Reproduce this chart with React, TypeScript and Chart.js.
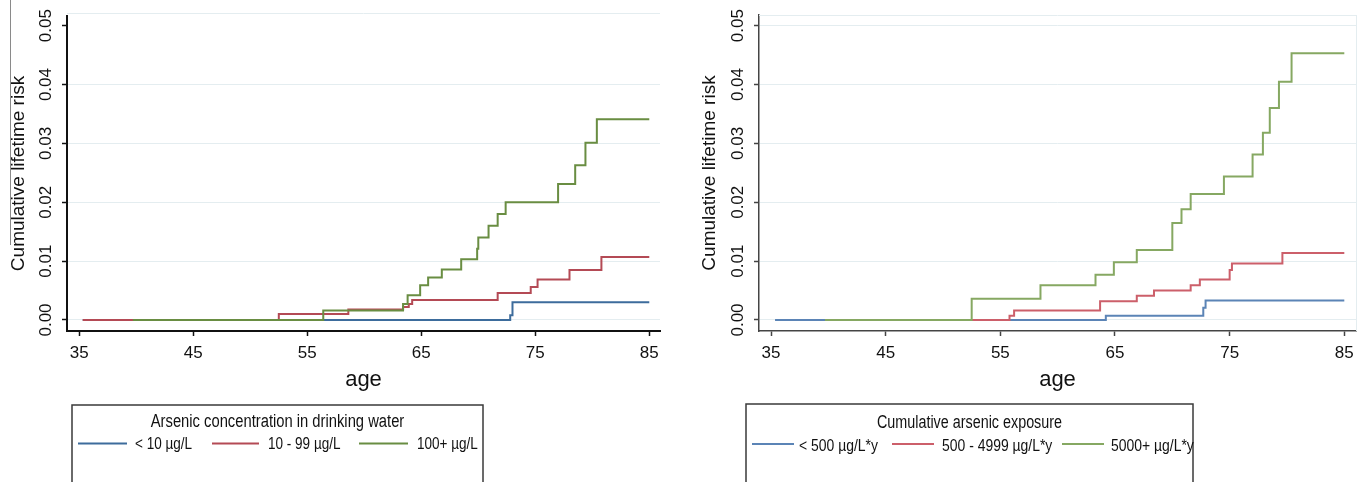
import React, { useEffect, useRef } from 'react';
import { Chart, registerables } from 'chart.js';

Chart.register(...registerables);

// ---------------- data ----------------
const xTicks = [35, 45, 55, 65, 75, 85];
const yTicks = [0, 0.01, 0.02, 0.03, 0.04, 0.05];
const xTitle = 'age';
const yTitle = 'Cumulative lifetime risk';

const leftLegendTitle = 'Arsenic concentration in drinking water';
const leftLabels = ['< 10 µg/L', '10 - 99 µg/L', '100+ µg/L'];
const leftLowAges = [35.3, 72.8, 73.0, 85];
const leftLowRisk = [0, 0.0008, 0.003, 0.003];
const leftMidAges = [35.3, 52.5, 58.6, 63.4, 63.9, 64.2, 71.7, 74.6, 75.2, 78.0, 80.8, 85];
const leftMidRisk = [0, 0.001, 0.0018, 0.0022, 0.0027, 0.0034, 0.0046, 0.0056, 0.0069, 0.0085, 0.0107, 0.0107];
const leftHighAges = [39.7, 56.4, 63.4, 63.8, 64.9, 65.6, 66.8, 68.5, 69.9, 70.0, 70.9, 71.7, 72.4, 77.0, 78.5, 79.4, 80.4, 85];
const leftHighRisk = [0, 0.0016, 0.0027, 0.0042, 0.0059, 0.0072, 0.0086, 0.0103, 0.0121, 0.014, 0.016, 0.018, 0.02, 0.0231, 0.0263, 0.0301, 0.0341, 0.0341];

const rightLegendTitle = 'Cumulative arsenic exposure';
const rightLabels = ['< 500 µg/L*y', '500 - 4999 µg/L*y', '5000+ µg/L*y'];
const rightLowAges = [35.35, 64.2, 72.7, 72.9, 85];
const rightLowRisk = [0, 0.0007, 0.0021, 0.0033, 0.0033];
const rightMidAges = [40.0, 55.8, 56.2, 63.7, 66.9, 68.4, 71.6, 72.4, 75.0, 75.2, 79.6, 85];
const rightMidRisk = [0, 0.0007, 0.0016, 0.0032, 0.0041, 0.005, 0.0059, 0.0069, 0.0085, 0.0096, 0.0114, 0.0114];
const rightHighAges = [39.7, 52.5, 58.5, 63.3, 64.9, 66.9, 70.0, 70.8, 71.6, 74.5, 77.0, 77.9, 78.5, 79.3, 80.4, 85];
const rightHighRisk = [0, 0.0036, 0.0059, 0.0077, 0.0098, 0.0119, 0.0165, 0.0188, 0.0214, 0.0244, 0.0281, 0.0318, 0.036, 0.0405, 0.0453, 0.0453];

// ---------------- styles ----------------
const FAMILY = "'Liberation Sans', Arial, Helvetica, sans-serif";
const leftColors = ['#3d6c9c', '#b44a55', '#698d42'];
const rightColors = ['#5b84b6', '#cc5f6a', '#86a862'];

function narrowAvailable(): boolean {
  try {
    const c = document.createElement('canvas').getContext('2d')!;
    c.font = "20px 'Liberation Sans Narrow', monospace";
    const a = c.measureText('Arsenic concentration age').width;
    c.font = '20px monospace';
    const b = c.measureText('Arsenic concentration age').width;
    return Math.abs(a - b) > 0.5;
  } catch (e) {
    return false;
  }
}
const HAS_NARROW = narrowAvailable();

const toPoints = (ages: number[], risk: number[]) => ages.map((a, i) => ({ x: a, y: risk[i] }));

const frameLines = {
  id: 'frameLines',
  beforeDatasetsDraw(chart: any, _a: any, opts: any) {
    const { ctx, chartArea } = chart;
    ctx.save();
    ctx.strokeStyle = '#e4edf0';
    ctx.lineWidth = 1;
    ctx.beginPath();
    const ty = Math.round(chartArea.top + (opts.topOffset || 0)) + 0.5;
    ctx.moveTo(chartArea.left, ty);
    ctx.lineTo(chartArea.right, ty);
    if (opts.rightLine) {
      ctx.moveTo(Math.round(chartArea.right) + 0.5, chartArea.top);
      ctx.lineTo(Math.round(chartArea.right) + 0.5, chartArea.bottom);
    }
    ctx.stroke();
    ctx.restore();
  },
  afterDraw(chart: any, _a: any, opts: any) {
    if (!opts.stray) return;
    const ctx = chart.ctx;
    ctx.save();
    ctx.strokeStyle = '#8a8a8a';
    ctx.lineWidth = 1;
    ctx.beginPath();
    ctx.moveTo(opts.stray.x + 0.5, opts.stray.y0);
    ctx.lineTo(opts.stray.x + 0.5, opts.stray.y1);
    ctx.stroke();
    ctx.restore();
  },
};

const boxLegend = {
  id: 'boxLegend',
  afterDraw(chart: any, _a: any, opts: any) {
    if (!opts || !opts.title) return;
    const ctx = chart.ctx;
    const ds = chart.data.datasets;
    ctx.save();
    ctx.strokeStyle = '#3a3a3a';
    ctx.lineWidth = 1.5;
    ctx.strokeRect(opts.left, opts.top, opts.right - opts.left, opts.bottom - opts.top);
    ctx.fillStyle = '#111';
    ctx.textBaseline = 'alphabetic';
    const sx = HAS_NARROW ? 1 : 0.82;
    const fam = HAS_NARROW ? "'Liberation Sans Narrow'" : FAMILY;
    const text = (t: string, x: number, y: number, align: CanvasTextAlign, size: number) => {
      ctx.save();
      ctx.font = `${size}px ${fam}`;
      ctx.translate(x, y);
      ctx.scale(sx, 1);
      ctx.textAlign = align;
      ctx.fillText(t, 0, 0);
      ctx.restore();
    };
    text(opts.title, (opts.left + opts.right) / 2, opts.titleY, 'center', opts.titleSize);
    ds.forEach((d: any, i: number) => {
      const it = opts.items[i];
      ctx.strokeStyle = d.borderColor;
      ctx.lineWidth = 2;
      ctx.beginPath();
      ctx.moveTo(it.x0, opts.lineY);
      ctx.lineTo(it.x1, opts.lineY);
      ctx.stroke();
      text(d.label, it.tx, opts.textY, 'left', opts.itemSize);
    });
    ctx.restore();
  },
};

function makeConfig(p: any) {
  const axisColor = p.axisColor;
  const datasets = [
    { label: p.labels[0], data: toPoints(p.low[0], p.low[1]), borderColor: p.colors[0], order: 3 },
    { label: p.labels[1], data: toPoints(p.mid[0], p.mid[1]), borderColor: p.colors[1], order: 2 },
    { label: p.labels[2], data: toPoints(p.high[0], p.high[1]), borderColor: p.colors[2], order: 1 },
  ].map((d) => ({
    ...d,
    stepped: 'before' as const,
    borderWidth: 2,
    pointRadius: 0,
    fill: false,
    tension: 0,
  }));
  return {
    type: 'line' as const,
    data: { datasets },
    options: {
      animation: false as const,
      responsive: false,
      devicePixelRatio: 1,
      layout: { padding: { left: 0, top: p.top, right: p.padRight, bottom: 89 } },
      plugins: {
        legend: { display: false },
        tooltip: { enabled: false },
        frameLines: { topOffset: p.topOffset, rightLine: p.rightLine, stray: p.stray },
        boxLegend: p.legend,
      },
      scales: {
        x: {
          type: 'linear' as const,
          min: p.xMin,
          max: p.xMax,
          afterBuildTicks: (s: any) => {
            s.ticks = xTicks.map((v) => ({ value: v }));
          },
          afterFit: (s: any) => {
            s.height = 62;
          },
          grid: { drawOnChartArea: false, drawTicks: true, tickLength: 5, tickColor: axisColor, tickWidth: 1.5 },
          border: { display: true, color: axisColor, width: p.axisWidth },
          ticks: {
            font: { family: FAMILY, size: 17 },
            color: '#111',
            padding: 7,
            maxRotation: 0,
            autoSkip: false,
            callback: (v: any) => String(v),
          },
          title: {
            display: true,
            text: xTitle,
            color: '#111',
            font: HAS_NARROW ? { family: "'Liberation Sans Narrow'", size: 26 } : { family: FAMILY, size: 22 },
            padding: 0,
          },
        },
        y: {
          type: 'linear' as const,
          min: p.yMin,
          max: p.yMax,
          afterBuildTicks: (s: any) => {
            s.ticks = yTicks.map((v) => ({ value: v }));
          },
          afterFit: (s: any) => {
            s.width = p.yWidth;
          },
          grid: {
            color: (c: any) => (p.hideTopGrid && c.tick && c.tick.value === 0.05 ? 'rgba(0,0,0,0)' : '#e4edf0'),
            lineWidth: 1,
            drawTicks: true,
            tickLength: 5,
            tickColor: axisColor,
            tickWidth: 1.5,
          },
          border: { display: true, color: axisColor, width: p.axisWidth },
          ticks: {
            font: { family: FAMILY, size: 17 },
            color: '#111',
            padding: -1,
            minRotation: 90,
            maxRotation: 90,
            crossAlign: 'center' as const,
            autoSkip: false,
            callback: (v: any) => Number(v).toFixed(2),
          },
          title: {
            display: true,
            text: yTitle,
            color: '#111',
            font: { family: FAMILY, size: 19 },
            padding: { top: p.yTitlePad, bottom: 0 },
          },
        },
      },
    },
    plugins: [frameLines, boxLegend],
  };
}

const leftParams = {
  labels: leftLabels,
  colors: leftColors,
  low: [leftLowAges, leftLowRisk],
  mid: [leftMidAges, leftMidRisk],
  high: [leftHighAges, leftHighRisk],
  axisColor: '#111',
  axisWidth: 2,
  top: 16,
  padRight: 24,
  yWidth: 67,
  yTitlePad: 7,
  xMin: 33.92,
  xMax: 85.94,
  yMin: -0.00187,
  yMax: 0.05165,
  hideTopGrid: true,
  topOffset: -3,
  rightLine: false,
  stray: { x: 10, y0: 0, y1: 245 },
  legend: {
    title: leftLegendTitle,
    titleSize: 18,
    itemSize: 16.5,
    left: 72,
    top: 405,
    right: 483,
    bottom: 500,
    titleY: 427,
    lineY: 443.5,
    textY: 449,
    items: [
      { x0: 78, x1: 127, tx: 135 },
      { x0: 212, x1: 259, tx: 268 },
      { x0: 359, x1: 408, tx: 417 },
    ],
  },
};

const rightParams = {
  labels: rightLabels,
  colors: rightColors,
  low: [rightLowAges, rightLowRisk],
  mid: [rightMidAges, rightMidRisk],
  high: [rightHighAges, rightHighRisk],
  axisColor: '#444444',
  axisWidth: 1.5,
  top: 15,
  padRight: 12,
  yWidth: 75,
  yTitlePad: 14.6,
  xMin: 33.95,
  xMax: 86.02,
  yMin: -0.00187,
  yMax: 0.05182,
  hideTopGrid: false,
  topOffset: 0,
  rightLine: true,
  stray: null,
  legend: {
    title: rightLegendTitle,
    titleSize: 17.5,
    itemSize: 17,
    left: 62,
    top: 404,
    right: 509,
    bottom: 500,
    titleY: 428.3,
    lineY: 444,
    textY: 451,
    items: [
      { x0: 68, x1: 110, tx: 115 },
      { x0: 208, x1: 250, tx: 258 },
      { x0: 378, x1: 420, tx: 427 },
    ],
  },
};

function KMChart({ params, left }: { params: any; left: number }) {
  const ref = useRef<HTMLCanvasElement | null>(null);
  useEffect(() => {
    if (!ref.current) return;
    const chart = new Chart(ref.current, makeConfig(params) as any);
    return () => chart.destroy();
  }, [params]);
  return (
    <canvas
      ref={ref}
      width={684}
      height={482}
      style={{ position: 'absolute', left, top: 0, width: 684, height: 482 }}
    />
  );
}

export default function App() {
  return (
    <div
      style={{
        position: 'fixed',
        left: 0,
        top: 0,
        width: 1368,
        height: 482,
        background: '#ffffff',
        overflow: 'hidden',
      }}
    >
      <KMChart params={leftParams} left={0} />
      <KMChart params={rightParams} left={684} />
    </div>
  );
}
